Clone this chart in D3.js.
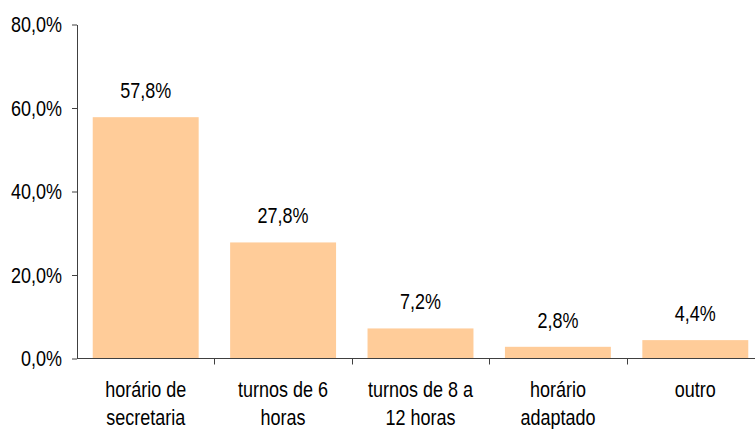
<!DOCTYPE html>
<html lang="pt">
<head>
    <meta charset="UTF-8" />
    <title>Horário</title>
    <script src="https://d3js.org/d3.v7.min.js"></script>
    <style>
        body { margin: 0; background: #fff; }
        svg { display: block; font-family: Arial, "Liberation Sans", sans-serif; }
        .axis path, .axis line { stroke: #404040; }
    </style>
</head>
<body>
<div id="chart"></div>
<script>
    // Data
    const categories = [
        ["horário de", "secretaria"],
        ["turnos de 6", "horas"],
        ["turnos de 8 a", "12 horas"],
        ["horário", "adaptado"],
        ["outro"]
    ];
    const values = [57.8, 27.8, 7.2, 2.8, 4.4];
    const yTicks = [0, 20, 40, 60, 80];

    const width = 755, height = 429;
    const margin = { top: 24.5, right: -9, bottom: 70.5, left: 77 };
    const fmt = v => v.toFixed(1).replace(".", ",") + "%";

    const svg = d3.select("#chart").append("svg")
        .attr("width", width)
        .attr("height", height);

    const idx = d3.range(values.length);
    const x = d3.scaleBand()
        .domain(idx)
        .range([margin.left, width - margin.right])
        .paddingInner(0.229)
        .paddingOuter(0.1145);
    const y = d3.scaleLinear()
        .domain([0, 80])
        .range([height - margin.bottom, margin.top]);

    // Bars
    svg.append("g").selectAll("rect")
        .data(idx)
        .join("rect")
        .attr("x", i => x(i))
        .attr("y", i => y(values[i]))
        .attr("width", x.bandwidth())
        .attr("height", i => y(0) - y(values[i]))
        .attr("fill", "#FFCC99");

    // Y axis
    const gy = svg.append("g")
        .attr("class", "axis")
        .attr("transform", `translate(${margin.left},0)`)
        .call(d3.axisLeft(y).tickValues(yTicks).tickFormat(fmt).tickSize(5).tickSizeOuter(0));
    gy.selectAll("text")
        .attr("x", -15)
        .attr("dy", "0.32em")
        .attr("font-size", 18)
        .attr("fill", "#000")
        .attr("transform", "scale(1,1.22)");

    // X axis
    const gx = svg.append("g")
        .attr("class", "axis")
        .attr("transform", `translate(0,${y(0)})`)
        .call(d3.axisBottom(x).tickSize(0).tickFormat(""));
    gx.select(".domain").attr("d", `M${margin.left},0H${width - margin.right}`);

    // Category boundary ticks
    const gap = (x.step() - x.bandwidth()) / 2;
    gx.append("g").selectAll("line")
        .data(idx.slice(1))
        .join("line")
        .attr("x1", i => Math.round(x(i) - gap) + 0.5)
        .attr("x2", i => Math.round(x(i) - gap) + 0.5)
        .attr("y1", 0)
        .attr("y2", 6)
        .attr("stroke", "#404040");

    // Category labels
    const catG = svg.append("g");
    idx.forEach(i => {
        categories[i].forEach((line, j) => {
            const cx = x(i) + x.bandwidth() / 2;
            const cy = 397 + j * 28;
            catG.append("text")
                .attr("transform", `translate(${cx},${cy}) scale(1,1.22)`)
                .attr("text-anchor", "middle")
                .attr("font-size", 18)
                .attr("fill", "#000")
                .text(line);
        });
    });

    // Value labels
    svg.append("g").selectAll("text")
        .data(idx)
        .join("text")
        .attr("transform", i => `translate(${x(i) + x.bandwidth() / 2},${y(values[i]) - 19}) scale(1,1.22)`)
        .attr("text-anchor", "middle")
        .attr("font-size", 18)
        .attr("fill", "#000")
        .text(i => fmt(values[i]));
</script>
</body>
</html>
